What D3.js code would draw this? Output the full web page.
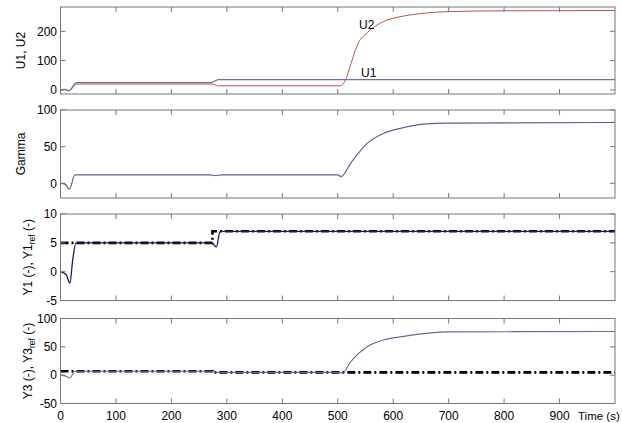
<!DOCTYPE html>
<html>
<head>
<meta charset="utf-8">
<script src="https://cdn.jsdelivr.net/npm/d3@7"></script>
<style>
  body { margin: 0; background: #fff; overflow: hidden; }
  text { font-family: "Liberation Sans", Arial, sans-serif; }
</style>
</head>
<body>
<div id="chart"></div>
<script>
// ---- data ----
const xTicks = [0, 100, 200, 300, 400, 500, 600, 700, 800, 900]

const tU1 = [0, 8, 15, 29, 272, 285, 1000]
const u1  = [0, 2, -3, 25, 25, 35, 35]
const tU2 = [0, 8, 15, 29, 272, 285, 504, 514, 523, 537, 553, 582, 613, 643, 697, 800, 1000]
const u2  = [0, 2, -3, 20, 20, 14, 14, 34, 85, 160, 195, 233, 250, 259, 267, 270, 271]

const tGamma = [0, 8, 16, 26, 270, 280, 290, 500, 506, 523, 553, 582, 613, 660, 700, 1000]
const gamma  = [0, -1, -8, 11.5, 11.5, 10.5, 11.5, 11.5, 9, 27, 54.5, 68, 75, 81, 82, 83]

const tY1 = [0, 10, 17, 22, 28, 272, 276, 281, 288, 1000]
const y1  = [0, -0.5, -2, 2, 5, 5, 4.7, 4.3, 7, 7]
const tY1ref = [0, 274, 274, 1000]
const y1ref  = [5, 5, 7, 7]

const tY3 = [0, 10, 17, 26, 272, 280, 504, 508, 523, 553, 582, 613, 643, 697, 1000]
const y3  = [0, -2, -5, 7, 7, 5, 5, 3, 23.5, 50, 62, 67.5, 72, 76.4, 77]
const tY3ref = [0, 274, 274, 1000]
const y3ref  = [7, 7, 5, 5]

// ---- layout ----
const width = 622
const height = 423
const left = 60.5, right = 615

const svg = d3.select("div#chart").append("svg").attr("width", width).attr("height", height)

const x = d3.scaleLinear().domain([0, 1000]).range([left, right])

const zip = (ts, vs) => ts.map((t, i) => ({t: t, v: vs[i]}))

const panels = [
  {top: 7, bottom: 94, domain: [-14, 283], ticks: [0, 100, 200], label: ["U1, U2"], lx: 25,
   series: [
     {data: zip(tU2, u2), color: "#c0504d", width: 1},
     {data: zip(tU1, u1), color: "#6f6f9a", width: 1.2}
   ]},
  {top: 110, bottom: 198, domain: [-20, 100], ticks: [0, 50, 100], label: ["Gamma"], lx: 25,
   series: [
     {data: zip(tGamma, gamma), color: "#5f5f95", width: 1.2}
   ]},
  {top: 214, bottom: 300.5, domain: [-5, 10], ticks: [-5, 0, 5, 10], label: ["Y1 (-), Y1", "ref", " (-)"], lx: 32,
   series: [
     {data: zip(tY1ref, y1ref), color: "#000", width: 2.6, dash: "8,3,2,3", curve: d3.curveLinear},
     {data: zip(tY1, y1), color: "#1a1a70", width: 1.3}
   ]},
  {top: 318.5, bottom: 403.5, domain: [-50, 100], ticks: [-50, 0, 50, 100], label: ["Y3 (-), Y3", "ref", " (-)"], lx: 32,
   series: [
     {data: zip(tY3ref, y3ref), color: "#000", width: 2.6, dash: "8,3,2,3", curve: d3.curveLinear},
     {data: zip(tY3, y3), color: "#6a6a9c", width: 1.1}
   ]}
]

const axisColor = "#777"
const tickLen = 5

panels.forEach((p, idx) => {
  const y = d3.scaleLinear().domain(p.domain).range([p.bottom, p.top])
  const g = svg.append("g").attr("class", "panel")

  // clip
  const clipId = "clip" + idx
  g.append("clipPath").attr("id", clipId).append("rect")
    .attr("x", left).attr("y", p.top).attr("width", right - left).attr("height", p.bottom - p.top)

  // lines
  p.series.forEach(s => {
    const line = d3.line()
      .x(d => x(d.t))
      .y(d => y(d.v))
      .curve(s.curve || d3.curveMonotoneX)
    g.append("path")
      .datum(s.data)
      .attr("clip-path", `url(#${clipId})`)
      .attr("d", line)
      .attr("fill", "none")
      .attr("stroke", s.color)
      .attr("stroke-width", s.width)
      .attr("stroke-dasharray", s.dash || null)
  })

  // box
  g.append("rect")
    .attr("x", left).attr("y", p.top)
    .attr("width", right - left).attr("height", p.bottom - p.top)
    .attr("fill", "none").attr("stroke", axisColor).attr("stroke-width", 1)

  // x ticks (top and bottom, inside)
  xTicks.filter(t => t > 0).forEach(t => {
    g.append("line").attr("x1", x(t)).attr("x2", x(t)).attr("y1", p.top).attr("y2", p.top + tickLen)
      .attr("stroke", axisColor)
    g.append("line").attr("x1", x(t)).attr("x2", x(t)).attr("y1", p.bottom).attr("y2", p.bottom - tickLen)
      .attr("stroke", axisColor)
  })

  // y ticks (left and right, inside) + labels
  p.ticks.forEach(t => {
    g.append("line").attr("x1", left).attr("x2", left + tickLen).attr("y1", y(t)).attr("y2", y(t))
      .attr("stroke", axisColor)
    g.append("line").attr("x1", right).attr("x2", right - tickLen).attr("y1", y(t)).attr("y2", y(t))
      .attr("stroke", axisColor)
    g.append("text")
      .attr("x", left - 3.5).attr("y", y(t))
      .attr("dy", "0.36em")
      .attr("text-anchor", "end")
      .style("font-size", "12px")
      .text(t)
  })

  // y label
  const cy = (p.top + p.bottom) / 2
  const lab = g.append("text")
    .attr("transform", `translate(${p.lx},${cy}) rotate(-90)`)
    .attr("text-anchor", "middle")
    .style("font-size", "12px")
  lab.append("tspan").text(p.label[0])
  if (p.label.length > 1) {
    lab.append("tspan").text(p.label[1]).attr("dy", 3).style("font-size", "8.5px")
    lab.append("tspan").text(p.label[2]).attr("dy", -3)
  }

  // x tick labels on the last panel only
  if (idx === panels.length - 1) {
    xTicks.forEach(t => {
      g.append("text")
        .attr("x", x(t)).attr("y", p.bottom + 16)
        .attr("text-anchor", "middle")
        .style("font-size", "12px")
        .text(t)
    })
    g.append("text")
      .attr("x", 578).attr("y", p.bottom + 16)
      .style("font-size", "11.5px")
      .text("Time (s)")
  }
})

// curve labels in the top panel
svg.append("text").attr("x", 359).attr("y", 29).style("font-size", "12px").text("U2")
svg.append("text").attr("x", 361).attr("y", 77).style("font-size", "12px").text("U1")
</script>
</body>
</html>
